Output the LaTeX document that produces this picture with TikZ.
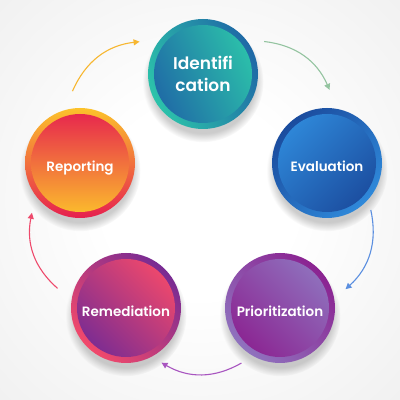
\documentclass[tikz,border=0pt]{standalone}
\usepackage{fontspec}
\setmainfont{Poppins}[BoldFont = * SemiBold]
\usetikzlibrary{arrows.meta}
\usetikzlibrary{shadows}
\usetikzlibrary{fadings}
\definecolor{idnteal}{HTML}{2CC3AA}
\definecolor{idnblue}{HTML}{1F68A6}
\definecolor{evalight}{HTML}{2F89DA}
\definecolor{evadark}{HTML}{1B4C9E}
\definecolor{prilav}{HTML}{8F72BE}
\definecolor{primag}{HTML}{8B2391}
\definecolor{rempink}{HTML}{F2496B}
\definecolor{rempurple}{HTML}{782B93}
\definecolor{repred}{HTML}{E6204F}
\definecolor{repyellow}{HTML}{FCC22B}
\pgfdeclareradialshading{bgglow}{\pgfpoint{0bp}{0bp}}{color(0bp)=(white); color(12bp)=(white); color(71bp)=(gray!28)}
\tikzset{stage/.style n args = {3}{circle, minimum size = 110pt, inner sep = 0pt,
                                   text = white, align = center,
                                   font = \bfseries\fontsize{13.5}{16}\selectfont,
                                   top color = #2, bottom color = #1, shading angle = #3,
                                   circular drop shadow = {shadow xshift = 0pt, shadow yshift = -7pt,
                                                           shadow scale = 1.1, opacity = 0.4},
                                   path picture = {\shade [top color = #1, bottom color = #2, shading angle = #3]
                                                   (path picture bounding box.center) circle (49pt);}}}
\tikzset{oneline/.style = {text height = 18pt, text depth = 0pt}}
\tikzset{flow/.style = {line width = 1.1pt, -{Triangle[length = 6pt, width = 6pt]}, bend left = 30}}
\begin{document}
\begin{tikzpicture}[x = 1pt, y = 1pt]
      \shade [shading = bgglow] (0, 0) rectangle (400, 400);
      \useasboundingbox (0, 0) rectangle (400, 400);
      % the five stages
      \node [stage = {idnteal}{idnblue}{-65}, font = \bfseries\fontsize{17}{22}\selectfont] (idn) at (203, 326) {Identifi\\cation};
      \node [stage = {evalight}{evadark}{45}, oneline] (eva) at (327, 237) {Evaluation};
      \node [stage = {prilav}{primag}{-45}, oneline] (pri) at (280, 92) {Prioritization};
      \node [stage = {rempink}{rempurple}{-45}, oneline] (rem) at (126, 92) {Remediation};
      \node [stage = {repred}{repyellow}{0}, oneline] (rep) at (80, 237) {Reporting};
      % arrow ends
      \coordinate (rep-out) at ([shift = {(96:17)}]rep.96);
      \coordinate (idn-in) at ([shift = {(153:16)}]idn.153);
      \coordinate (idn-out) at ([shift = {(28:14)}]idn.28);
      \coordinate (eva-in) at ([shift = {(88:18)}]eva.88);
      \coordinate (eva-out) at ([shift = {(-47:9)}]eva.-47);
      \coordinate (pri-in) at ([shift = {(16:13)}]pri.16);
      \coordinate (pri-out) at ([shift = {(235:12)}]pri.235);
      \coordinate (rem-in) at ([shift = {(-57:10)}]rem.-57);
      \coordinate (rem-out) at ([shift = {(164:16)}]rem.164);
      \coordinate (rep-in) at ([shift = {(226:14)}]rep.226);
      \draw [flow, color = {rgb,255:red,247;green,183;blue,49}] (rep-out) to (idn-in);
      \draw [flow, color = {rgb,255:red,148;green,196;blue,160}] (idn-out) to (eva-in);
      \draw [flow, color = {rgb,255:red,91;green,143;blue,224}] (eva-out) to (pri-in);
      \draw [flow, color = {rgb,255:red,168;green,85;blue,192}] (pri-out) to (rem-in);
      \draw [flow, color = {rgb,255:red,238;green,74;blue,108}] (rem-out) to (rep-in);
    \end{tikzpicture}
\end{document}
